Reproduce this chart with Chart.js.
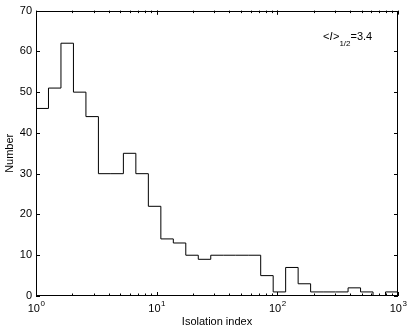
<!DOCTYPE html>
<html>
<head>
<meta charset="utf-8">
<script src="https://cdn.jsdelivr.net/npm/chart.js@4"></script>
<style>
  html, body { margin: 0; padding: 0; background: #fff; }
  #wrap { width: 410px; height: 331px; position: relative; }
</style>
</head>
<body>
<div id="wrap"><canvas id="histChart"></canvas></div>
<script>
// histogram bin edges (log spaced, 29 bins from 1 to 1000)
const binEdges = [1, 1.269, 1.610, 2.043, 2.593, 3.290, 4.175, 5.298, 6.723, 8.532,
  10.83, 13.74, 17.43, 22.12, 28.07, 35.62, 45.20, 57.36, 72.79, 92.37,
  117.2, 148.7, 188.7, 239.5, 303.9, 385.7, 489.4, 621.0, 788.1, 1000];
// counts per bin
const counts = [46, 51, 62, 50, 44, 30, 30, 35, 30, 22, 14, 13, 10, 9, 10, 10, 10, 10,
  5, 1, 7, 3, 1, 1, 1, 2, 1, 0, 1];
const yTicks = [0, 10, 20, 30, 40, 50, 60, 70];
const xMajor = [1, 10, 100, 1000];
const xExponents = ["0", "1", "2", "3"];

const FONT = "'Liberation Sans', Arial, Helvetica, sans-serif";

// step points: each edge carries the count of the bin that starts there,
// the last edge repeats the last count
const stepPoints = binEdges.map((e, i) => ({ x: e, y: counts[Math.min(i, counts.length - 1)] }));

const framePlugin = {
  id: "matlabFrame",
  afterDraw(chart) {
    const { ctx, chartArea: a, scales } = chart;
    const xs = scales.x, ys = scales.y;
    ctx.save();
    ctx.strokeStyle = "#000";
    ctx.lineWidth = 1;
    ctx.strokeRect(Math.round(a.left) + 0.5, Math.round(a.top) + 0.5,
      Math.round(a.right - a.left) - 1, Math.round(a.bottom - a.top) - 1);

    ctx.beginPath();
    // y ticks, inward on both sides
    yTicks.forEach(v => {
      const y = Math.round(ys.getPixelForValue(v)) + 0.5;
      ctx.moveTo(a.left, y); ctx.lineTo(a.left + 4, y);
      ctx.moveTo(a.right, y); ctx.lineTo(a.right - 4, y);
    });
    // x ticks, major + minor, top and bottom
    for (let d = 1; d < 1000; d *= 10) {
      for (let m = 1; m <= 10; m++) {
        const v = d * m;
        const x = Math.round(xs.getPixelForValue(v)) + 0.5;
        const len = (m === 1 || m === 10) ? 4 : 2.5;
        ctx.moveTo(x, a.bottom); ctx.lineTo(x, a.bottom - len);
        ctx.moveTo(x, a.top); ctx.lineTo(x, a.top + len);
      }
    }
    ctx.stroke();

    ctx.fillStyle = "#000";
    // x tick labels with superscript exponents
    xMajor.forEach((v, i) => {
      const x = xs.getPixelForValue(v);
      ctx.font = "11px " + FONT;
      const wBase = ctx.measureText("10").width;
      ctx.font = "8px " + FONT;
      const wExp = ctx.measureText(xExponents[i]).width;
      const start = x - (wBase + wExp) / 2;
      ctx.textAlign = "left";
      ctx.textBaseline = "alphabetic";
      ctx.font = "11px " + FONT;
      ctx.fillText("10", start, 312);
      ctx.font = "8px " + FONT;
      ctx.fillText(xExponents[i], start + wBase + 0.5, 306);
    });

    // axis titles
    ctx.font = "11px " + FONT;
    ctx.textAlign = "center";
    ctx.fillText("Isolation index", (a.left + a.right) / 2, 325);
    ctx.save();
    ctx.translate(10, (a.top + a.bottom) / 2);
    ctx.rotate(-Math.PI / 2);
    ctx.textBaseline = "middle";
    ctx.fillText("Number", 0, 0);
    ctx.restore();

    // annotation <I>_{1/2}=3.4
    ctx.textAlign = "left";
    ctx.textBaseline = "alphabetic";
    let tx = 323;
    const by = 40;
    const parts = [
      ["<", "11px", 0], ["I", "italic 11px", 0], [">", "11px", 0],
      ["1/2", "8px", 6], ["=3.4", "11px", 0]
    ];
    parts.forEach(([t, f, dy]) => {
      ctx.font = f + " " + FONT;
      ctx.fillText(t, tx, by + dy);
      tx += ctx.measureText(t).width + (t === "I" ? 0.5 : 0);
    });
    ctx.restore();
  }
};

new Chart(document.getElementById("histChart"), {
  type: "line",
  data: {
    datasets: [{
      data: stepPoints,
      stepped: "before",
      borderColor: "#000",
      borderWidth: 1,
      pointRadius: 0,
      fill: false,
    }],
  },
  options: {
    responsive: true,
    maintainAspectRatio: false,
    animation: false,
    layout: { padding: { left: 0, right: 12, top: 10, bottom: 0 } },
    plugins: { legend: { display: false }, tooltip: { enabled: false } },
    scales: {
      x: {
        type: "logarithmic",
        min: 1,
        max: 1000,
        grid: { display: false, drawTicks: false },
        border: { display: false },
        ticks: { display: false },
        afterFit: (s) => { s.height = 35; },
      },
      y: {
        min: 0,
        max: 70,
        grid: { display: false, drawTicks: false },
        border: { display: false },
        ticks: {
          stepSize: 10,
          color: "#000",
          padding: 4,
          font: { size: 11, family: FONT },
        },
        afterFit: (s) => { s.width = 36; },
      },
    },
  },
  plugins: [framePlugin],
});
</script>
</body>
</html>
